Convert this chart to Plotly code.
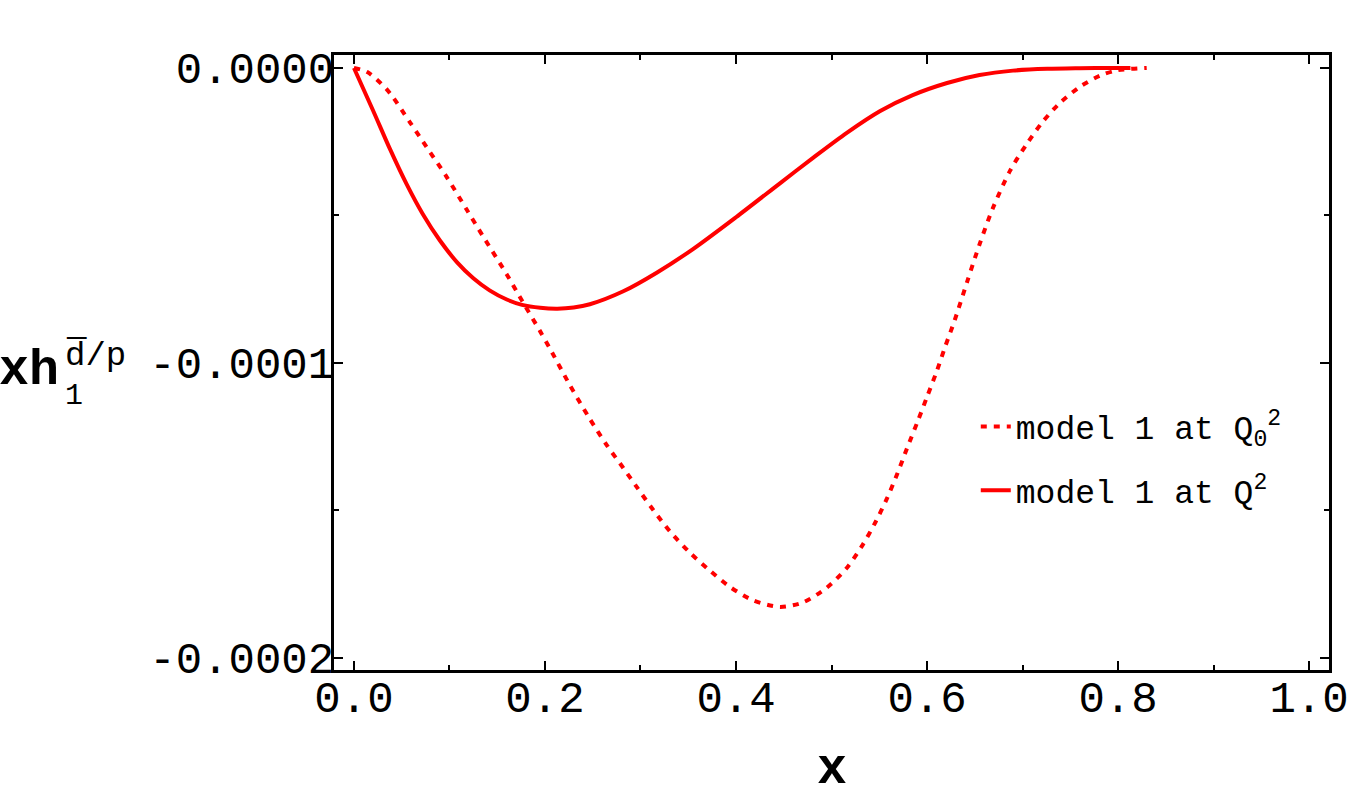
import plotly.graph_objects as go

# ---- data ----
x_q0 = [0.0, 0.014, 0.035, 0.059, 0.076, 0.097, 0.118, 0.135, 0.160, 0.177, 0.195, 0.205,
        0.226, 0.247, 0.265, 0.282, 0.296, 0.313, 0.331, 0.352, 0.373, 0.394, 0.418, 0.446,
        0.470, 0.495, 0.516, 0.532, 0.546, 0.558, 0.569, 0.579, 0.590, 0.600, 0.610, 0.619,
        0.629, 0.642, 0.655, 0.669, 0.687, 0.705, 0.721, 0.739, 0.760, 0.781, 0.799, 0.830]
y_q0 = [0.0, -1.4e-6, -7.5e-6, -1.86e-5, -2.68e-5, -3.69e-5, -4.80e-5, -5.70e-5, -7.00e-5,
        -7.95e-5, -8.93e-5, -9.50e-5, -1.075e-4, -1.190e-4, -1.280e-4, -1.356e-4, -1.420e-4,
        -1.497e-4, -1.572e-4, -1.644e-4, -1.705e-4, -1.760e-4, -1.805e-4, -1.827e-4, -1.812e-4,
        -1.762e-4, -1.695e-4, -1.620e-4, -1.540e-4, -1.460e-4, -1.375e-4, -1.290e-4, -1.200e-4,
        -1.115e-4, -1.030e-4, -9.45e-5, -8.55e-5, -7.25e-5, -5.98e-5, -4.75e-5, -3.48e-5,
        -2.55e-5, -1.83e-5, -1.19e-5, -6.4e-6, -2.6e-6, -8e-7, 0.0]

x_q = [0.0, 0.020, 0.038, 0.055, 0.072, 0.090, 0.108, 0.125, 0.142, 0.160, 0.176, 0.195,
       0.213, 0.230, 0.247, 0.282, 0.317, 0.355, 0.400, 0.446, 0.481, 0.516, 0.551, 0.585,
       0.621, 0.655, 0.690, 0.726, 0.760, 0.795, 0.813]
y_q = [0.0, -1.44e-5, -2.77e-5, -3.93e-5, -4.95e-5, -5.85e-5, -6.59e-5, -7.13e-5, -7.54e-5,
       -7.85e-5, -8.03e-5, -8.13e-5, -8.16e-5, -8.12e-5, -8.01e-5, -7.57e-5, -6.94e-5,
       -6.14e-5, -5.06e-5, -3.91e-5, -3.04e-5, -2.20e-5, -1.46e-5, -9.2e-6, -5.1e-6, -2.4e-6,
       -9e-7, -3e-7, -1e-7, 0.0, 0.0]

names = ["model 1 at Q<sub>0</sub><sup>2</sup>", "model 1 at Q<sup>2</sup>"]

x_tickvals = [0.0, 0.2, 0.4, 0.6, 0.8, 1.0]
x_ticktext = ["0.0", "0.2", "0.4", "0.6", "0.8", "1.0"]
y_tickvals = [0.0, -0.0001, -0.0002]
y_ticktext = ["0.0000", "-0.0001", "-0.0002"]

RED = "#ff0000"
MONO = "Liberation Mono"

fig = go.Figure()
fig.add_trace(go.Scatter(x=x_q0, y=y_q0, mode="lines", name=names[0], legendgroup="a",
                         line=dict(color=RED, width=4, dash="6px,7px", shape="spline", smoothing=0.8)))
fig.add_trace(go.Scatter(x=x_q, y=y_q, mode="lines", name=names[1], legendgroup="b",
                         line=dict(color=RED, width=4, shape="spline", smoothing=0.8)))

axis_common = dict(
    showline=True, linecolor="black", linewidth=3, mirror="allticks",
    ticks="inside", ticklen=9, tickwidth=2, tickcolor="black",
    showgrid=False, zeroline=False, automargin=False,
    tickfont=dict(family=MONO, size=44, color="black"),
)

fig.update_xaxes(
    range=[-0.0209, 1.0209], tickvals=x_tickvals, ticktext=x_ticktext,
    ticklabelstandoff=-14,
    minor=dict(dtick=0.1, tick0=0, ticks="inside", ticklen=5, tickwidth=2, tickcolor="black"),
    **axis_common,
)
fig.update_yaxes(
    range=[-0.0002041, 0.0000044], tickvals=y_tickvals, ticktext=y_ticktext,
    ticklabelstandoff=-12,
    minor=dict(tickvals=[-0.00005, -0.00015], ticks="inside", ticklen=5, tickwidth=2, tickcolor="black"),
    **axis_common,
)

fig.update_layout(
    width=1350, height=801,
    margin=dict(l=334, r=21, t=55, b=131),
    plot_bgcolor="white", paper_bgcolor="white",
    legend=dict(x=0.645, y=0.4415, xanchor="left", yanchor="top",
                font=dict(family=MONO, size=33, color="black"),
                bgcolor="rgba(0,0,0,0)", traceorder="grouped", tracegroupgap=18),
    annotations=[
        dict(text="<b>x</b>", xref="paper", yref="paper", x=0.5005, y=-0.2114,
             xanchor="center", yanchor="bottom", showarrow=False,
             font=dict(family=MONO, size=50, color="black")),
        dict(text="<b>xh</b>", xref="paper", yref="paper", x=-0.3387, y=0.487,
             xanchor="left", yanchor="middle", showarrow=False,
             font=dict(family=MONO, size=50, color="black")),
        dict(text="1", xref="paper", yref="paper", x=-0.2724, y=0.446,
             xanchor="left", yanchor="middle", showarrow=False,
             font=dict(family=MONO, size=30, color="black")),
        dict(text="d\u0305/p", xref="paper", yref="paper", x=-0.2724, y=0.512,
             xanchor="left", yanchor="middle", showarrow=False,
             font=dict(family=MONO, size=34, color="black")),
    ],
)

fig.write_html("out.html")
